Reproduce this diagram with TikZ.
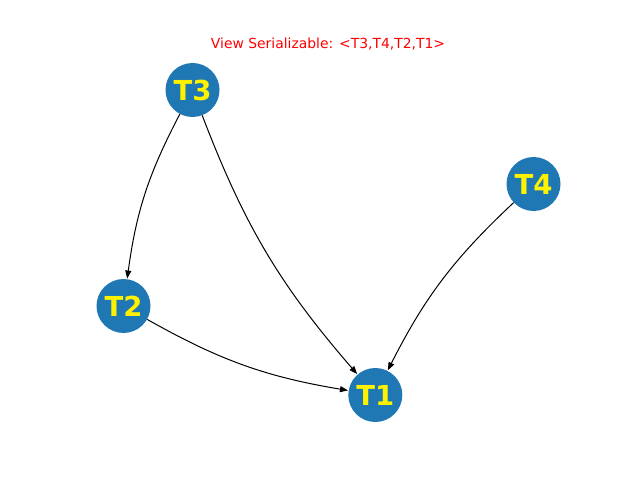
\documentclass[tikz,border=0pt]{standalone}
\usepackage{fontspec}
\setmainfont{DejaVu Sans}
\usetikzlibrary{arrows.meta}
\definecolor{tabblue}{HTML}{1F77B4}
\begin{document}
\begin{tikzpicture}[x=1pt,y=1pt,
  tnode/.style={circle,fill=tabblue,minimum size=54pt,inner sep=0pt,text=yellow,font=\fontsize{27.5}{30}\selectfont\bfseries},
  edge/.style={draw=black,line width=1pt,-{Triangle[length=8pt,width=6pt]},shorten >=0.5pt}]
\useasboundingbox (0,0) rectangle (640,480);
\node[font=\fontsize{13.9}{16}\selectfont,text=red] (title) at (328,436) {View Serializable: <T3,T4,T2,T1>};
\node[tnode] (T3) at (192.5,390) {T3};
\node[tnode] (T4) at (533.5,296) {T4};
\node[tnode] (T2) at (123.5,174) {T2};
\node[tnode] (T1) at (375.3,85) {T1};
\draw[edge] (T3) to[bend right=10] (T2);
\draw[edge] (T3) to[bend right=10] (T1);
\draw[edge] (T4) to[bend right=10] (T1);
\draw[edge] (T2) to[bend right=10] (T1);
\end{tikzpicture}
\end{document}
